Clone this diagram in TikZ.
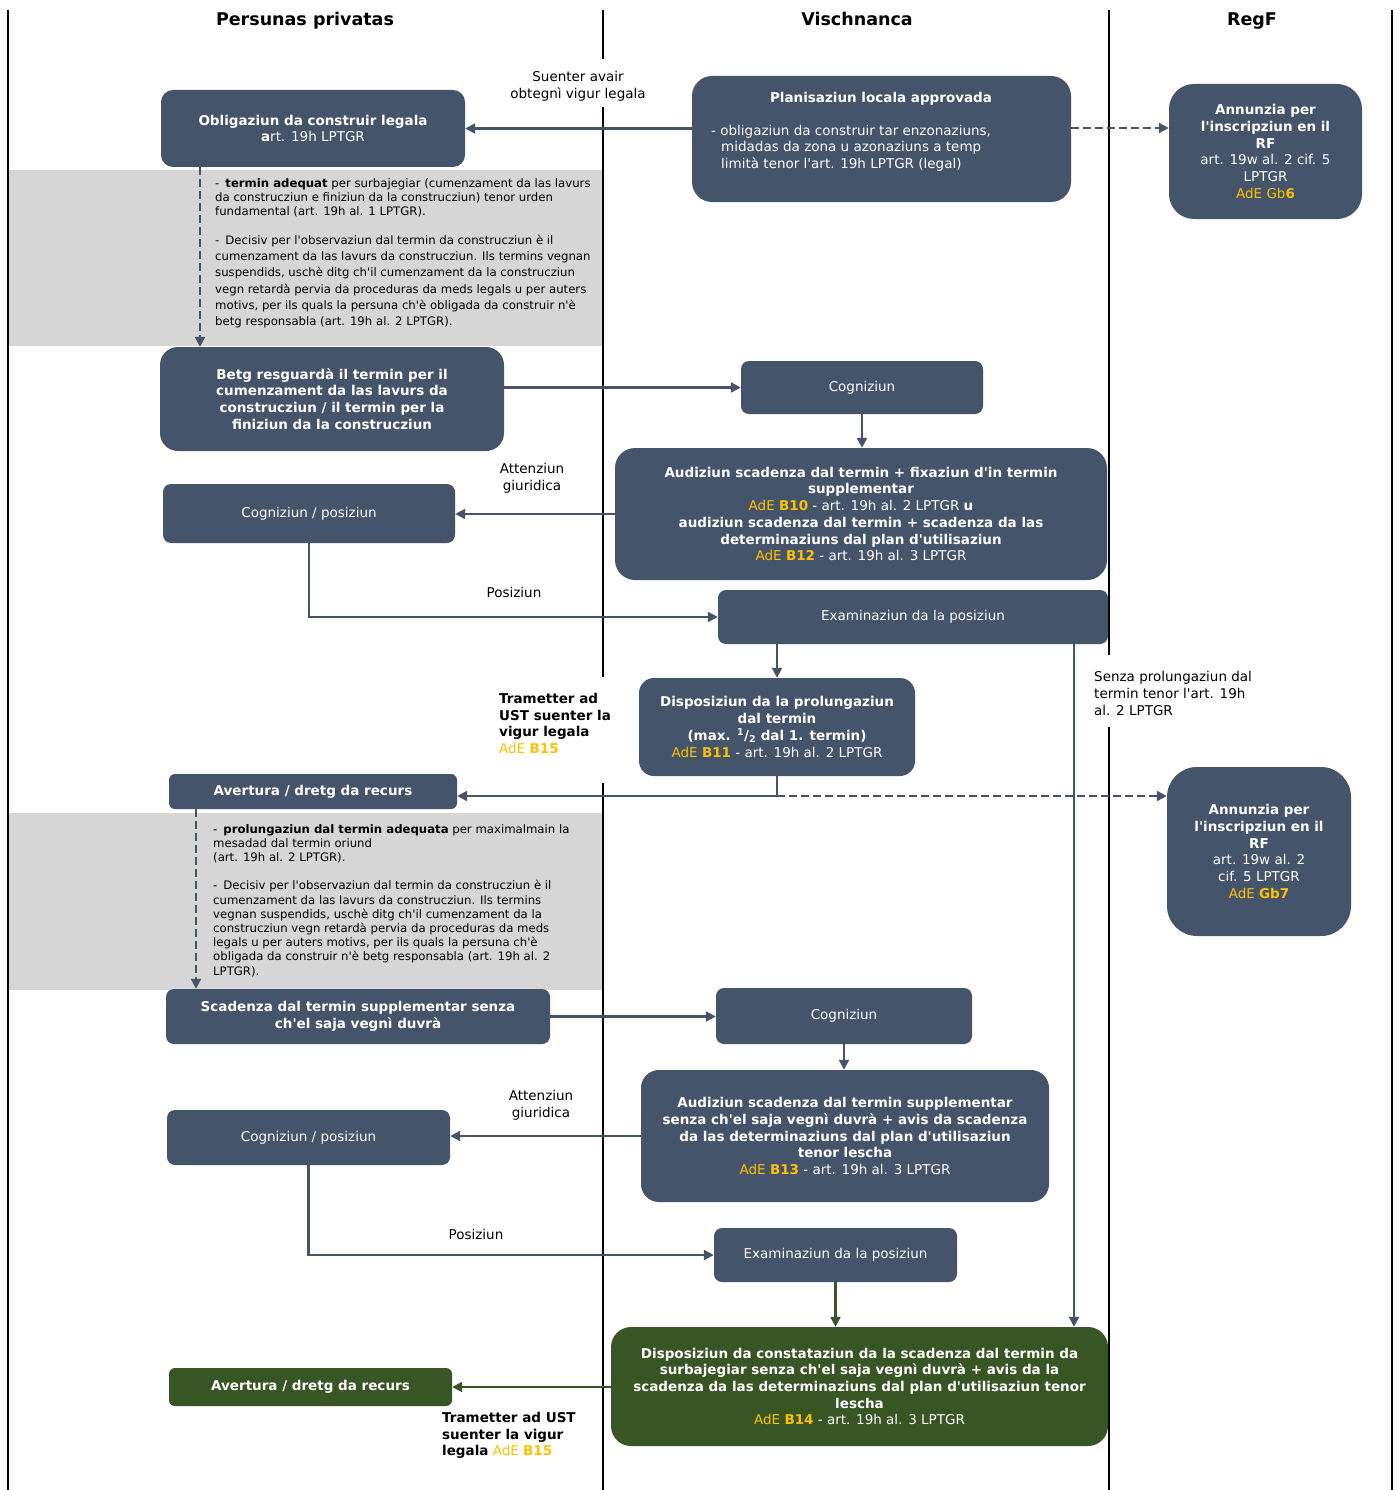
\documentclass[tikz,border=0pt]{standalone}
\usepackage{fontspec}
\defaultfontfeatures[\rmfamily]{}
\setmainfont{DejaVu Sans}
\usetikzlibrary{arrows.meta,calc}
\definecolor{slate}{HTML}{44546A}
\definecolor{dgreen}{HTML}{375623}
\definecolor{adey}{HTML}{FFC000}
\definecolor{hatchgrey}{HTML}{D6D6D6}
\newcommand\adeRef[1]{\textcolor{adey}{AdE \textbf{#1}}}
\tikzset{
  box/.style={rectangle, rounded corners=12pt, fill=slate, text=white, inner sep=0pt,
    align=center, font=\fontsize{13.5}{16.7}\selectfont},
  gbox/.style={box, fill=dgreen},
  lbl/.style={inner sep=0pt, align=center, font=\fontsize{13.5}{16.7}\selectfont},
  greytxt/.style={inner sep=0pt, align=left, anchor=west},
  hdr/.style={inner sep=0pt, anchor=base, font=\fontsize{17.5}{20}\selectfont\bfseries},
  lane/.style={draw=black, line width=2pt},
  arr/.style={draw=slate, line width=2.2pt, -{Triangle[length=10pt,width=10pt]}},
  garr/.style={arr, draw=dgreen, fill=dgreen},
  darr/.style={arr, dashed, dash pattern=on 8pt off 4pt},
}
\begin{document}
\begin{tikzpicture}[x=1pt,y=-1pt]
\useasboundingbox (0,0) rectangle (1398,1490);
\fill[white] (0,0) rectangle (1398,1490);
% grey shaded regions
\fill[hatchgrey] (8,170) rectangle (603,346);
\fill[hatchgrey] (8,813) rectangle (603,990);
% lanes
\draw[lane] (8,10) -- (8,1490);
\draw[lane] (1392,10) -- (1392,1490);
\draw[lane] (603,10) -- (603,59);
\draw[lane] (603,107) -- (603,677);
\draw[lane] (603,783) -- (603,1490);
\draw[lane] (1109,10) -- (1109,655);
\draw[lane] (1109,727) -- (1109,1490);
% headers
\node[hdr] (h1) at (305,26) {Persunas privatas};
\node[hdr] (h2) at (857,26) {Vischnanca};
\node[hdr] (h3) at (1252,26) {RegF};

% coordinates
\coordinate (x200) at (200,0);
\coordinate (x196) at (196,0);
\coordinate (x1074) at (1074,0);

% nodes
\node[box, minimum width=304, minimum height=77] (oblig) at (313,128.5)
  {\textbf{Obligaziun da construir legala}\\\textbf{a}rt. 19h LPTGR};
\node[box, rounded corners=20pt, minimum width=379, minimum height=126] (plan) at (881.5,139) {};
\node[inner sep=0pt, text=white, font=\fontsize{13.5}{16.7}\selectfont\bfseries] (plant) at (881,99) {Planisaziun locala approvada};
\node[inner sep=0pt, text=white, align=left, anchor=west, font=\fontsize{13.5}{16.3}\selectfont] (planl) at (711,148)
  {- obligaziun da construir tar enzonaziuns,\\\hspace*{10pt}midadas da zona u azonaziuns a temp\\\hspace*{10pt}limità tenor l'art. 19h LPTGR (legal)};
\node[box, rounded corners=25pt, minimum width=193, minimum height=135] (ann1) at (1265.5,151.5)
  {\textbf{Annunzia per}\\\textbf{l'inscripziun en il}\\\textbf{RF}\\art. 19w al. 2 cif. 5\\LPTGR\\\textcolor{adey}{AdE Gb\textbf{6}}};
\node[box, rounded corners=18pt, minimum width=344, minimum height=104] (betg) at (332,399)
  {\textbf{Betg resguardà il termin per il}\\\textbf{cumenzament da las lavurs da}\\\textbf{construcziun / il termin per la}\\\textbf{finiziun da la construcziun}};
\node[box, rounded corners=8pt, minimum width=242, minimum height=53] (cogn1) at (862,387.5) {Cogniziun};
\node[box, rounded corners=20pt, minimum width=492, minimum height=132] (aud1) at (861,514)
  {\textbf{Audiziun scadenza dal termin + fixaziun d'in termin}\\\textbf{supplementar}\\\adeRef{B10} - art. 19h al. 2 LPTGR \textbf{u}\\\textbf{audiziun scadenza dal termin + scadenza da las}\\\textbf{determinaziuns dal plan d'utilisaziun}\\\adeRef{B12} - art. 19h al. 3 LPTGR};
\node[box, rounded corners=8pt, minimum width=292, minimum height=59] (cp1) at (309,513.5) {Cogniziun / posiziun};
\node[box, rounded corners=8pt, minimum width=390, minimum height=54] (exam1) at (913,617) {Examinaziun da la posiziun};
\node[box, rounded corners=15pt, minimum width=276, minimum height=98] (disp) at (777,727)
  {\textbf{Disposiziun da la prolungaziun}\\\textbf{dal termin}\\\textbf{(max. \textsuperscript{1}/\textsubscript{2} dal 1. termin)}\\\adeRef{B11} - art. 19h al. 2 LPTGR};
\node[box, rounded corners=6pt, minimum width=288, minimum height=35] (avert1) at (313,791.5) {\textbf{Avertura / dretg da recurs}};
\node[box, rounded corners=30pt, minimum width=184, minimum height=169] (ann2) at (1259,851.5)
  {\textbf{Annunzia per}\\\textbf{l'inscripziun en il}\\\textbf{RF}\\art. 19w al. 2\\cif. 5 LPTGR\\\adeRef{Gb7}};
\node[box, rounded corners=8pt, minimum width=384, minimum height=55] (scad) at (358,1016.5)
  {\textbf{Scadenza dal termin supplementar senza}\\\textbf{ch'el saja vegnì duvrà}};
\node[box, rounded corners=8pt, minimum width=256, minimum height=56] (cogn2) at (844,1016) {Cogniziun};
\node[box, rounded corners=18pt, minimum width=408, minimum height=132] (aud2) at (845,1136)
  {\textbf{Audiziun scadenza dal termin supplementar}\\\textbf{senza ch'el saja vegnì duvrà + avis da scadenza}\\\textbf{da las determinaziuns dal plan d'utilisaziun}\\\textbf{tenor lescha}\\\adeRef{B13} - art. 19h al. 3 LPTGR};
\node[box, rounded corners=8pt, minimum width=283, minimum height=55] (cp2) at (308.5,1137.5) {Cogniziun / posiziun};
\node[box, rounded corners=8pt, minimum width=243, minimum height=54] (exam2) at (835.5,1255) {Examinaziun da la posiziun};
\node[gbox, rounded corners=20pt, minimum width=497, minimum height=119] (disp2) at (859.5,1386.5)
  {\textbf{Disposiziun da constataziun da la scadenza dal termin da}\\\textbf{surbajegiar senza ch'el saja vegnì duvrà + avis da la}\\\textbf{scadenza da las determinaziuns dal plan d'utilisaziun tenor}\\\textbf{lescha}\\\adeRef{B14} - art. 19h al. 3 LPTGR};
\node[gbox, rounded corners=6pt, minimum width=283, minimum height=38] (avert2) at (310.5,1387) {\textbf{Avertura / dretg da recurs}};

% grey texts
\node[greytxt, font=\fontsize{11.7}{14}\selectfont] (g1a) at (215,198)
  {-\hspace{6pt}\textbf{termin adequat} per surbajegiar (cumenzament da las lavurs\\da construcziun e finiziun da la construcziun) tenor urden\\fundamental (art. 19h al. 1 LPTGR).};
\node[greytxt, font=\fontsize{11.7}{16.2}\selectfont] (g1b) at (215,281.5)
  {-\hspace{6pt}Decisiv per l'observaziun dal termin da construcziun è il\\cumenzament da las lavurs da construcziun. Ils termins vegnan\\suspendids, uschè ditg ch'il cumenzament da la construcziun\\vegn retardà pervia da proceduras da meds legals u per auters\\motivs, per ils quals la persuna ch'è obligada da construir n'è\\betg responsabla (art. 19h al. 2 LPTGR).};
\node[greytxt, font=\fontsize{11.7}{14}\selectfont] (g2a) at (213,844)
  {-\hspace{6pt}\textbf{prolungaziun dal termin adequata} per maximalmain la\\mesadad dal termin oriund\\(art. 19h al. 2 LPTGR).};
\node[greytxt, font=\fontsize{11.7}{14.2}\selectfont] (g2b) at (213,928.5)
  {-\hspace{6pt}Decisiv per l'observaziun dal termin da construcziun è il\\cumenzament da las lavurs da construcziun. Ils termins\\vegnan suspendids, uschè ditg ch'il cumenzament da la\\construcziun vegn retardà pervia da proceduras da meds\\legals u per auters motivs, per ils quals la persuna ch'è\\obligada da construir n'è betg responsabla (art. 19h al. 2\\LPTGR).};

% labels
\node[lbl] (l1) at (578,86.5) {Suenter avair\\obtegnì vigur legala};
\node[lbl] (l2) at (532,478.5) {Attenziun\\giuridica};
\node[lbl] (l3) at (514,592) {Posiziun};
\node[lbl, align=left, anchor=west] (l4) at (499,723.5)
  {\textbf{Trametter ad}\\\textbf{UST suenter la}\\\textbf{vigur legala}\\\adeRef{B15}};
\node[lbl, align=left, anchor=west] (l5) at (1094,693.5)
  {Senza prolungaziun dal\\termin tenor l'art. 19h\\al. 2 LPTGR};
\node[lbl] (l6) at (541,1105) {Attenziun\\giuridica};
\node[lbl] (l7) at (476,1234) {Posiziun};
\node[lbl, align=left, anchor=west] (l8) at (442,1435.5)
  {\textbf{Trametter ad UST}\\\textbf{suenter la vigur}\\\textbf{legala} \adeRef{B15}};

% connectors
\draw[arr] (oblig.east -| plan.west) -- (oblig.east);
\coordinate (p1) at (1071,128);
\draw[darr] (p1) -- (p1 -| ann1.west);
\draw[darr] (oblig.south -| x200) -- (betg.north -| x200);
\draw[arr] (betg.east |- cogn1.west) -- (cogn1.west);
\draw[arr] (cogn1.south) -- (cogn1.south |- aud1.north);
\draw[arr] (aud1.west) -- (aud1.west -| cp1.east);
\draw[arr] (cp1.south) |- (exam1.west);
\draw[arr] (exam1.south -| disp.north) -- (disp.north);
\coordinate (j1) at (777,796);
\draw[arr] (disp.south) -- (j1) -- (j1 -| avert1.east);
\draw[darr] (j1) -- (j1 -| ann2.west);
\draw[arr] (exam1.south -| x1074) -- (disp2.north -| x1074);
\draw[darr] (avert1.south -| x196) -- (scad.north -| x196);
\draw[arr] (scad.east) -- (scad.east -| cogn2.west);
\draw[arr] (cogn2.south) -- (cogn2.south |- aud2.north);
\draw[arr] (aud2.west) -- (aud2.west -| cp2.east);
\draw[arr] (cp2.south) |- (exam2.west);
\draw[garr] (exam2.south) -- (exam2.south |- disp2.north);
\draw[garr] (disp2.west |- avert2.east) -- (avert2.east);
\end{tikzpicture}
\end{document}
